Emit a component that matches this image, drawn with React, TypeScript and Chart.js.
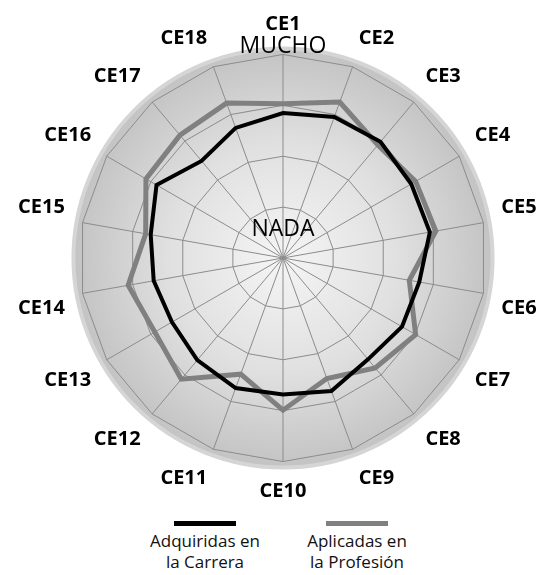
import React, { useEffect, useRef } from "react";
import { Chart, registerables } from "chart.js";

Chart.register(...registerables);

// ---- data ----
const categories = [
  "CE1", "CE2", "CE3", "CE4", "CE5", "CE6", "CE7", "CE8", "CE9",
  "CE10", "CE11", "CE12", "CE13", "CE14", "CE15", "CE16", "CE17", "CE18",
];
const adquiridas = [
  3.85, 3.95, 3.98, 3.91, 3.93, 3.72, 3.7, 3.6, 3.78,
  3.68, 3.72, 3.62, 3.52, 3.58, 3.64, 3.87, 3.49, 3.72,
];
const aplicadas = [
  4.03, 4.26, 3.9, 4.01, 4.05, 3.52, 4.01, 3.82, 3.52,
  3.99, 3.43, 4.11, 3.91, 4.09, 3.74, 4.11, 4.15, 4.24,
];
const seriesLine1 = ["Adquiridas en", "Aplicadas en"];
const seriesLine2 = ["la Carrera", "la Profesión"];
const scaleMin = 1;
const scaleMax = 5;
const topLabel = "MUCHO";
const centerLabel = "NADA";

// ---- layout targets ----
const TARGET = { x: 284, y: 259, r: 206 };

const decorPlugin = {
  id: "decor",
  beforeDraw(chart: any) {
    const s = chart.scales.r;
    const ctx = chart.ctx;
    const R = s.drawingArea + 6;
    ctx.save();
    const g = ctx.createRadialGradient(s.xCenter, s.yCenter, 0, s.xCenter, s.yCenter, R);
    g.addColorStop(0, "#f5f5f5");
    g.addColorStop(0.55, "#e0e0e0");
    g.addColorStop(1, "#c3c3c3");
    ctx.beginPath();
    ctx.arc(s.xCenter, s.yCenter, R, 0, Math.PI * 2);
    ctx.fillStyle = g;
    ctx.fill();
    ctx.lineWidth = 4;
    ctx.strokeStyle = "#d5d5d5";
    ctx.stroke();
    ctx.restore();
  },
  afterDraw(chart: any) {
    const s = chart.scales.r;
    const ctx = chart.ctx;
    ctx.save();
    ctx.fillStyle = "#000";
    ctx.textAlign = "center";
    ctx.textBaseline = "alphabetic";
    ctx.font = "23px 'Open Sans'";
    ctx.fillText(topLabel, s.xCenter, s.yCenter - s.drawingArea - 1);
    ctx.fillText(centerLabel, s.xCenter, s.yCenter - 22);
    ctx.restore();
  },
};

export default function App() {
  const ref = useRef<HTMLCanvasElement | null>(null);

  useEffect(() => {
    if (!ref.current) return;
    const chart = new Chart(ref.current, {
      type: "radar",
      data: {
        labels: categories,
        datasets: [
          {
            label: seriesLine1[0] + " " + seriesLine2[0],
            data: adquiridas,
            borderColor: "#000000",
            borderWidth: 4,
            pointRadius: 0,
            fill: false,
            tension: 0,
          },
          {
            label: seriesLine1[1] + " " + seriesLine2[1],
            data: aplicadas,
            borderColor: "#808080",
            borderWidth: 5,
            pointRadius: 0,
            fill: false,
            tension: 0,
          },
        ],
      },
      options: {
        responsive: false,
        animation: false,
        devicePixelRatio: 1,
        layout: { padding: { left: 0, right: 0, top: 0, bottom: 0 } },
        plugins: {
          legend: { display: false },
          tooltip: { enabled: false },
        },
        scales: {
          r: {
            min: scaleMin,
            max: scaleMax,
            ticks: { display: false, stepSize: 1 },
            grid: { circular: false, color: "#8c8c8c", lineWidth: 1 },
            angleLines: { color: "#8c8c8c", lineWidth: 1 },
            pointLabels: {
              color: "#000",
              padding: 18,
              font: { family: "'Open Sans'", size: 20, weight: "bold" },
            },
          },
        },
      },
      plugins: [decorPlugin],
    });

    // adjust layout padding so the scale lands on the target center/radius
    for (let k = 0; k < 8; k++) {
      const s: any = chart.scales.r;
      const dr = Math.round(TARGET.r - s.drawingArea);
      const dx = Math.round(TARGET.x - s.xCenter);
      const dy = Math.round(TARGET.y - s.yCenter);
      if (dr === 0 && dx === 0 && dy === 0) break;
      const p: any = (chart.options.layout as any).padding;
      p.left += -dr + dx;
      p.right += -dr - dx;
      p.top += -dr + dy;
      p.bottom += -dr - dy;
      chart.update();
    }

    return () => chart.destroy();
  }, []);

  const legendX = [205, 357];
  const legendColors = ["#000000", "#808080"];

  return (
    <div
      style={{
        position: "absolute",
        left: 0,
        top: 0,
        width: 543,
        height: 575,
        background: "#ffffff",
        overflow: "hidden",
      }}
    >
      <canvas
        ref={ref}
        width={543}
        height={505}
        style={{ position: "absolute", left: 0, top: 0, width: 543, height: 505 }}
      />
      {legendX.map((cx, i) => (
        <React.Fragment key={i}>
          <div
            style={{
              position: "absolute",
              left: cx - 31,
              top: 521,
              width: 62,
              height: 5,
              background: legendColors[i],
            }}
          />
          <div
            style={{
              position: "absolute",
              left: cx - 80,
              top: 530,
              width: 160,
              textAlign: "center",
              fontFamily: "'Open Sans', sans-serif",
              fontSize: 17,
              lineHeight: "21px",
              color: "#111",
              whiteSpace: "nowrap",
            }}
          >
            {seriesLine1[i]}
            <br />
            {seriesLine2[i]}
          </div>
        </React.Fragment>
      ))}
    </div>
  );
}
